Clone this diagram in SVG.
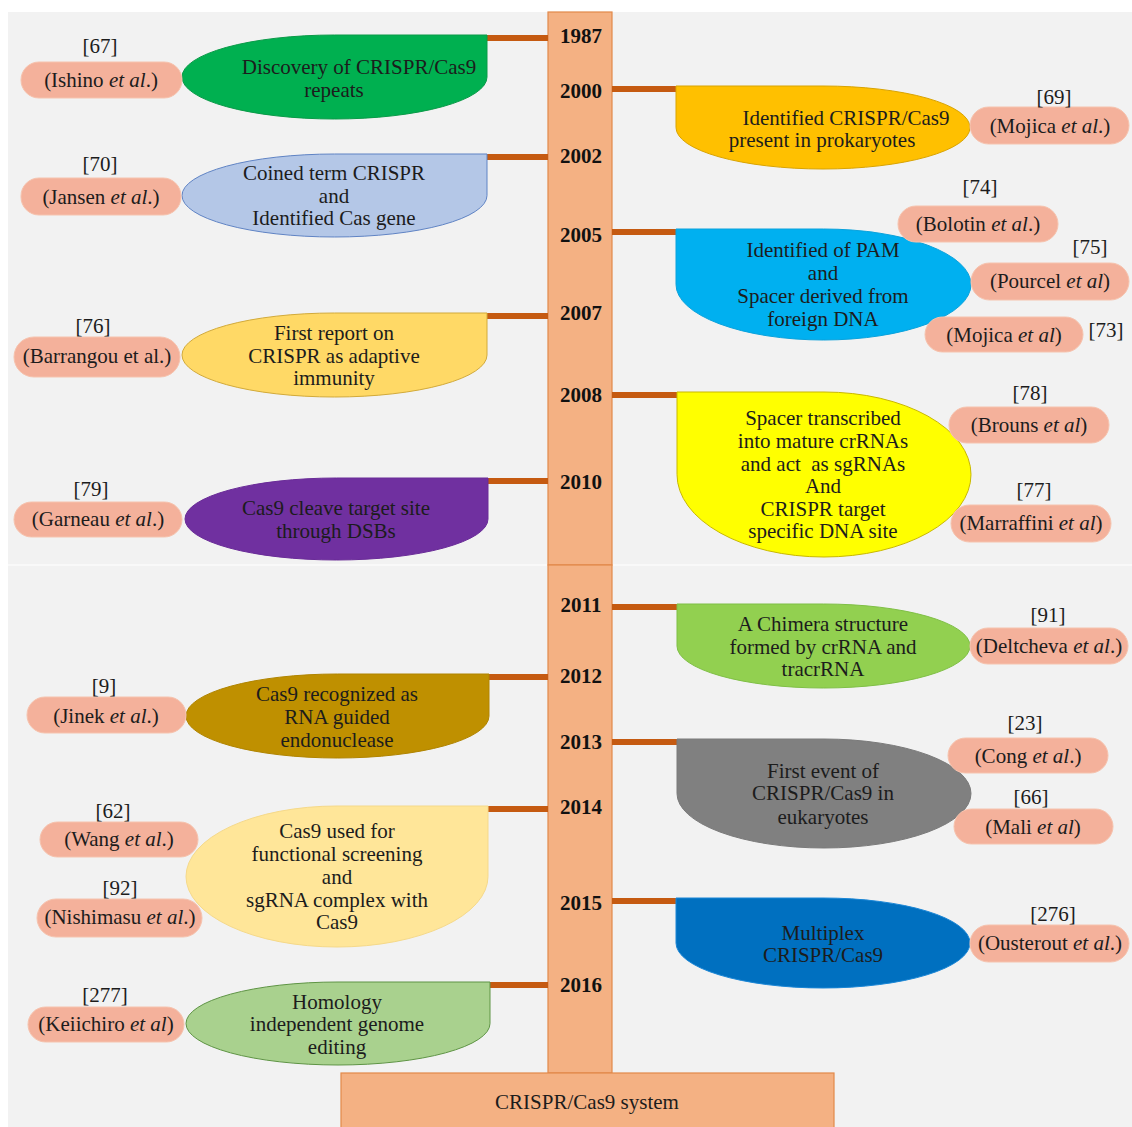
<svg xmlns="http://www.w3.org/2000/svg" width="1132" height="1127" viewBox="0 0 1132 1127">
<style>
text{font-family:"Liberation Serif","Times New Roman",serif;font-size:21px;fill:#1c1c1c;text-anchor:middle}
.yr{font-weight:bold;fill:#111}
.pill{fill:#f4b19b;stroke:#f6c3ae;stroke-width:1}
.node{stroke-width:1}
.con{stroke:#c55a11;stroke-width:6;fill:none}
.bar{fill:#f4b183;stroke:#e2894a;stroke-width:1.2}
</style>
<rect x="0" y="0" width="1132" height="1127" fill="#ffffff"/>
<rect x="8" y="12" width="1124" height="1115" fill="#f2f2f2"/>
<line x1="8" y1="565" x2="1132" y2="565" stroke="#fbfbfb" stroke-width="1.5"/>

<g id="timeline">
<rect class="bar" x="548" y="12" width="64" height="553"/>
<rect class="bar" x="548" y="565" width="64" height="508"/>
<text class="yr" x="581" y="43">1987</text>
<text class="yr" x="581" y="98">2000</text>
<text class="yr" x="581" y="163">2002</text>
<text class="yr" x="581" y="242">2005</text>
<text class="yr" x="581" y="320">2007</text>
<text class="yr" x="581" y="402">2008</text>
<text class="yr" x="581" y="489">2010</text>
<text class="yr" x="581" y="612">2011</text>
<text class="yr" x="581" y="683">2012</text>
<text class="yr" x="581" y="749">2013</text>
<text class="yr" x="581" y="814">2014</text>
<text class="yr" x="581" y="910">2015</text>
<text class="yr" x="581" y="992">2016</text>
</g>

<g id="system">
<rect class="bar" x="341" y="1073" width="493" height="60"/>
<text x="587" y="1109">CRISPR/Cas9 system</text>
</g>

<g id="connectors">
<line class="con" x1="486" y1="38" x2="548" y2="38"/>
<line class="con" x1="486" y1="157" x2="548" y2="157"/>
<line class="con" x1="486" y1="316" x2="548" y2="316"/>
<line class="con" x1="487" y1="481" x2="548" y2="481"/>
<line class="con" x1="488" y1="677" x2="548" y2="677"/>
<line class="con" x1="487" y1="809" x2="548" y2="809"/>
<line class="con" x1="489" y1="985" x2="548" y2="985"/>
<line class="con" x1="612" y1="89" x2="677" y2="89"/>
<line class="con" x1="612" y1="232" x2="677" y2="232"/>
<line class="con" x1="612" y1="395" x2="678" y2="395"/>
<line class="con" x1="612" y1="607" x2="678" y2="607"/>
<line class="con" x1="612" y1="742" x2="678" y2="742"/>
<line class="con" x1="612" y1="901" x2="677" y2="901"/>
</g>

<!-- left nodes -->
<g id="n1987">
<path class="node" d="M334.5,35 L487,35 L487,77 A152.5,42 0 1 1 334.5,35 Z" fill="#00b050" stroke="#0a9a48"/>
<text x="359" y="74">Discovery of CRISPR/Cas9</text>
<text x="334" y="97">repeats</text>
</g>
<g id="n2002">
<path class="node" d="M334.5,154 L487,154 L487,195.5 A152.5,41.5 0 1 1 334.5,154 Z" fill="#b4c7e7" stroke="#5f83c4"/>
<text x="334" y="180">Coined term CRISPR</text>
<text x="334" y="203">and</text>
<text x="334" y="225">Identified Cas gene</text>
</g>
<g id="n2007">
<path class="node" d="M334.5,313 L487,313 L487,355 A152.5,42 0 1 1 334.5,313 Z" fill="#ffd966" stroke="#d2aa3a"/>
<text x="334" y="340">First report on</text>
<text x="334" y="363">CRISPR as adaptive</text>
<text x="334" y="385">immunity</text>
</g>
<g id="n2010">
<path class="node" d="M336.5,478 L488,478 L488,519 A151.5,41 0 1 1 336.5,478 Z" fill="#7030a0" stroke="#6a2c98"/>
<text x="336" y="515" fill="#1a1030">Cas9 cleave target site</text>
<text x="336" y="538" fill="#1a1030">through DSBs</text>
</g>
<g id="n2012">
<path class="node" d="M337.5,674 L489,674 L489,716 A151.5,42 0 1 1 337.5,674 Z" fill="#bf9000" stroke="#b08400"/>
<text x="337" y="701">Cas9 recognized as</text>
<text x="337" y="724">RNA guided</text>
<text x="337" y="747">endonuclease</text>
</g>
<g id="n2014">
<path class="node" d="M337,806 L488,806 L488,876.5 A151,70.5 0 1 1 337,806 Z" fill="#ffe699" stroke="#f5d98a"/>
<text x="337" y="838">Cas9 used for</text>
<text x="337" y="861">functional screening</text>
<text x="337" y="884">and</text>
<text x="337" y="907">sgRNA complex with</text>
<text x="337" y="929">Cas9</text>
</g>
<g id="n2016">
<path class="node" d="M338,982 L490,982 L490,1023.5 A152,41.5 0 1 1 338,982 Z" fill="#a9d18e" stroke="#5e9444"/>
<text x="337" y="1009">Homology</text>
<text x="337" y="1031">independent genome</text>
<text x="337" y="1054">editing</text>
</g>

<!-- right nodes -->
<g id="n2000">
<path class="node" d="M676,127.5 L676,86 L823,86 A147,41.5 0 1 1 676,127.5 Z" fill="#ffc000" stroke="#d9a300"/>
<text x="846" y="125">Identified CRISPR/Cas9</text>
<text x="822" y="147">present in prokaryotes</text>
</g>
<g id="n2005">
<path class="node" d="M676,284.5 L676,229 L823.5,229 A147.5,55.5 0 1 1 676,284.5 Z" fill="#00b0f0" stroke="#0aa2dc"/>
<text x="823" y="257">Identified of PAM</text>
<text x="823" y="280">and</text>
<text x="823" y="303">Spacer derived from</text>
<text x="823" y="326">foreign DNA</text>
</g>
<g id="n2008">
<path class="node" d="M677,474.5 L677,392 L824,392 A147,82.5 0 1 1 677,474.5 Z" fill="#ffff00" stroke="#c9b800"/>
<text x="823" y="425">Spacer transcribed</text>
<text x="823" y="448">into mature crRNAs</text>
<text x="823" y="471" xml:space="preserve">and act  as sgRNAs</text>
<text x="823" y="493">And</text>
<text x="823" y="516">CRISPR target</text>
<text x="823" y="538">specific DNA site</text>
</g>
<g id="n2011">
<path class="node" d="M677,646 L677,604 L823.5,604 A146.5,42 0 1 1 677,646 Z" fill="#92d050" stroke="#7fbf45"/>
<text x="823" y="631">A Chimera structure</text>
<text x="823" y="654">formed by crRNA and</text>
<text x="823" y="676">tracrRNA</text>
</g>
<g id="n2013">
<path class="node" d="M677,793.5 L677,739 L824,739 A147,54.5 0 1 1 677,793.5 Z" fill="#808080" stroke="#7a7a7a"/>
<text x="823" y="778">First event of</text>
<text x="823" y="800">CRISPR/Cas9 in</text>
<text x="823" y="824">eukaryotes</text>
</g>
<g id="n2015">
<path class="node" d="M676,943 L676,898 L823,898 A147,45 0 1 1 676,943 Z" fill="#0070c0" stroke="#1a86d6"/>
<text x="823" y="940" fill="#0b1a3a">Multiplex</text>
<text x="823" y="962" fill="#0b1a3a">CRISPR/Cas9</text>
</g>

<!-- citations left -->
<g id="c67">
<rect class="pill" x="21" y="62" width="161" height="36" rx="18"/>
<text x="101" y="87">(Ishino <tspan font-style="italic">et al</tspan>.)</text>
<text x="100" y="53">[67]</text>
</g>
<g id="c70">
<rect class="pill" x="21" y="178" width="160" height="37" rx="18"/>
<text x="101" y="204">(Jansen <tspan font-style="italic">et al</tspan>.)</text>
<text x="100" y="171">[70]</text>
</g>
<g id="c76">
<rect class="pill" x="14" y="337" width="166" height="40" rx="20"/>
<text x="97" y="363">(Barrangou et al.)</text>
<text x="93" y="333">[76]</text>
</g>
<g id="c79">
<rect class="pill" x="14" y="502" width="168" height="35" rx="17.5"/>
<text x="98" y="526">(Garneau <tspan font-style="italic">et al</tspan>.)</text>
<text x="91" y="496">[79]</text>
</g>
<g id="c9">
<rect class="pill" x="27" y="697" width="159" height="36" rx="18"/>
<text x="106" y="723">(Jinek <tspan font-style="italic">et al</tspan>.)</text>
<text x="104" y="693">[9]</text>
</g>
<g id="c62">
<rect class="pill" x="40" y="822" width="158" height="35" rx="17.5"/>
<text x="119" y="846">(Wang <tspan font-style="italic">et al</tspan>.)</text>
<text x="113" y="818">[62]</text>
</g>
<g id="c92">
<rect class="pill" x="37" y="899" width="165" height="38" rx="19"/>
<text x="120" y="924">(Nishimasu <tspan font-style="italic">et al</tspan>.)</text>
<text x="120" y="895">[92]</text>
</g>
<g id="c277">
<rect class="pill" x="28" y="1007" width="156" height="35" rx="17.5"/>
<text x="106" y="1031">(Keiichiro <tspan font-style="italic">et al</tspan>)</text>
<text x="105" y="1002">[277]</text>
</g>

<!-- citations right -->
<g id="c69">
<rect class="pill" x="970" y="107" width="159" height="37" rx="18.5"/>
<text x="1050" y="133">(Mojica <tspan font-style="italic">et al</tspan>.)</text>
<text x="1054" y="104">[69]</text>
</g>
<g id="c74">
<rect class="pill" x="898" y="206" width="160" height="36" rx="18"/>
<text x="978" y="231">(Bolotin <tspan font-style="italic">et al</tspan>.)</text>
<text x="980" y="194">[74]</text>
</g>
<g id="c75">
<rect class="pill" x="971" y="263" width="158" height="37" rx="18.5"/>
<text x="1050" y="288">(Pourcel <tspan font-style="italic">et al</tspan>)</text>
<text x="1090" y="254">[75]</text>
</g>
<g id="c73">
<rect class="pill" x="925" y="317" width="158" height="35" rx="17.5"/>
<text x="1004" y="342">(Mojica <tspan font-style="italic">et al</tspan>)</text>
<text x="1106" y="337">[73]</text>
</g>
<g id="c78">
<rect class="pill" x="949" y="407" width="160" height="36" rx="18"/>
<text x="1029" y="432">(Brouns <tspan font-style="italic">et al</tspan>)</text>
<text x="1030" y="400">[78]</text>
</g>
<g id="c77">
<rect class="pill" x="951" y="505" width="160" height="37" rx="18.5"/>
<text x="1031" y="530">(Marraffini <tspan font-style="italic">et al</tspan>)</text>
<text x="1034" y="497">[77]</text>
</g>
<g id="c91">
<rect class="pill" x="970" y="628" width="158" height="36" rx="18"/>
<text x="1049" y="653">(Deltcheva <tspan font-style="italic">et al</tspan>.)</text>
<text x="1048" y="622">[91]</text>
</g>
<g id="c23">
<rect class="pill" x="948" y="738" width="160" height="35" rx="17.5"/>
<text x="1028" y="763">(Cong <tspan font-style="italic">et al</tspan>.)</text>
<text x="1025" y="730">[23]</text>
</g>
<g id="c66">
<rect class="pill" x="954" y="809" width="159" height="35" rx="17.5"/>
<text x="1033" y="834">(Mali <tspan font-style="italic">et al</tspan>)</text>
<text x="1031" y="804">[66]</text>
</g>
<g id="c276">
<rect class="pill" x="970" y="925" width="159" height="37" rx="18.5"/>
<text x="1050" y="950">(Ousterout <tspan font-style="italic">et al</tspan>.)</text>
<text x="1053" y="921">[276]</text>
</g>
</svg>
